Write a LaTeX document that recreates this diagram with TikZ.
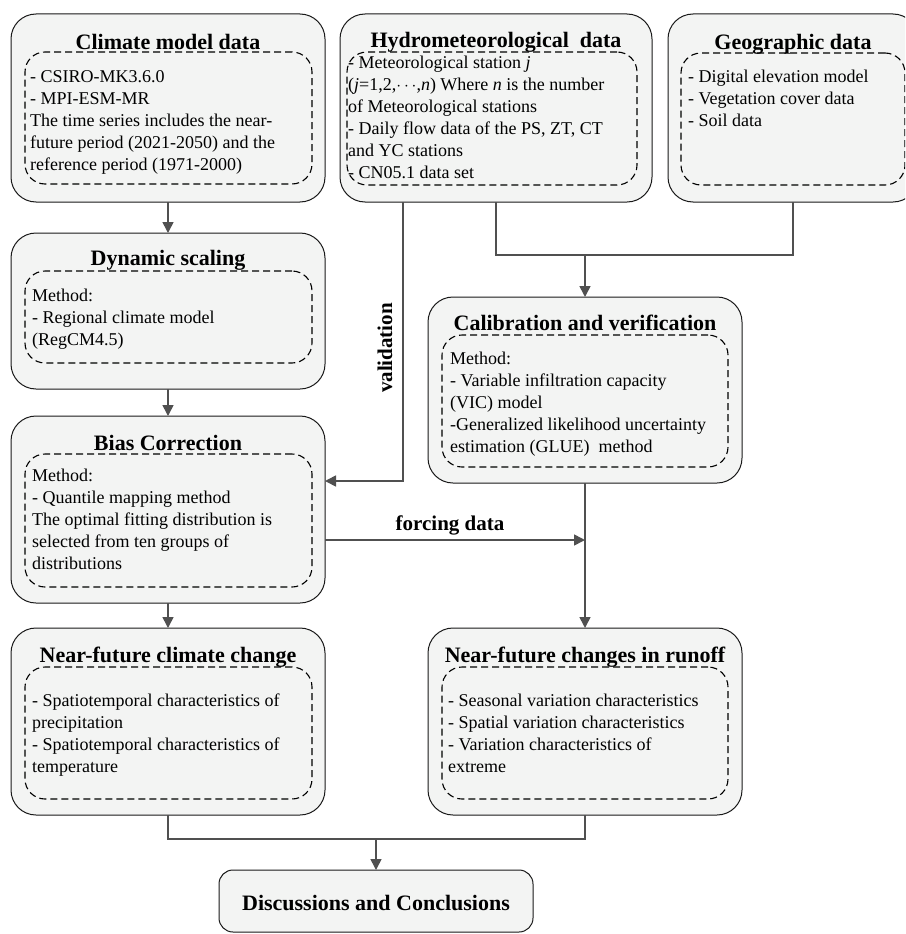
\documentclass[tikz,border=0pt]{standalone}
\usepackage{fontspec}
\setmainfont{Liberation Serif}
\usetikzlibrary{arrows.meta}
\definecolor{boxfill}{HTML}{F3F4F3}
\definecolor{linegray}{HTML}{505050}
\tikzset{
  outerbox/.style={draw=black!90, line width=1pt, fill=boxfill, rounded corners=25pt, inner sep=0pt, outer sep=0pt},
  innerbox/.style={draw=black, line width=1.1pt, dash pattern=on 7pt off 4pt, rounded corners=20pt, inner sep=0pt, outer sep=0pt},
  titletext/.style={font=\fontsize{22}{26}\selectfont\bfseries, inner sep=0pt, anchor=base},
  bodytext/.style={font=\fontsize{18}{22}\selectfont, inner sep=0pt, anchor=north west, align=left},
  labeltext/.style={font=\fontsize{21}{25}\selectfont\bfseries, inner sep=0pt},
  conn/.style={draw=linegray, line width=1.6pt},
  arr/.style={conn, -{Triangle[length=11pt,width=11pt]}},
}
\begin{document}
\begin{tikzpicture}[x=1pt,y=-1pt]
\useasboundingbox (0,0) rectangle (905,934);
\clip (0,0) rectangle (905,934);

% outer boxes
\node[outerbox, minimum width=314pt, minimum height=188pt] (A) at (168,108) {};
\node[outerbox, minimum width=314pt, minimum height=156pt] (B) at (168,311) {};
\node[outerbox, minimum width=314pt, minimum height=187pt] (C) at (168,509.5) {};
\node[outerbox, minimum width=314pt, minimum height=187pt] (D) at (168,721.5) {};
\node[outerbox, minimum width=314pt, minimum height=187pt] (E) at (585,721.5) {};
\node[outerbox, rounded corners=14pt, minimum width=314pt, minimum height=62pt] (F) at (376,901) {};
\node[outerbox, minimum width=312pt, minimum height=188pt] (G) at (496,108) {};
\node[outerbox, minimum width=250pt, minimum height=188pt] (H) at (793,108) {};
\node[outerbox, minimum width=314pt, minimum height=186pt] (I) at (585,390) {};

% inner dashed boxes
\node[innerbox, minimum width=287pt, minimum height=132pt] (Ad) at (168.5,118) {};
\node[innerbox, minimum width=287pt, minimum height=92pt] (Bd) at (168.5,317) {};
\node[innerbox, minimum width=287pt, minimum height=133pt] (Cd) at (168.5,520.5) {};
\node[innerbox, minimum width=287pt, minimum height=132pt] (Dd) at (168.5,733) {};
\node[innerbox, minimum width=286pt, minimum height=132pt] (Ed) at (585,733) {};
\node[innerbox, minimum width=290pt, minimum height=133pt] (Gd) at (492,118.5) {};
\node[innerbox, minimum width=224pt, minimum height=132pt] (Hd) at (793,119) {};
\node[innerbox, minimum width=286pt, minimum height=132pt] (Id) at (585,401) {};

% titles
\node[titletext] (At) at (168,49) {Climate model data};
\node[titletext] (Bt) at (168,265) {Dynamic scaling};
\node[titletext] (Ct) at (168,450) {Bias Correction};
\node[titletext] (Dt) at (168,662) {Near-future climate change};
\node[titletext] (Et) at (585,662) {Near-future changes in runoff};
\node[titletext] (Ft) at (376,910) {Discussions and Conclusions};
\node[titletext] (Gt) at (496,48) {Hydrometeorological\ \ data};
\node[titletext] (Ht) at (793,50) {Geographic data};
\node[titletext] (It) at (585,330) {Calibration and verification};

% bodies
\node[bodytext] (Ab) at (30,66.6) {\strut- CSIRO-MK3.6.0\\- MPI-ESM-MR\\The time series includes the near-\\future period (2021-2050) and the\\reference period (1971-2000)};
\node[bodytext] (Bb) at (32,285.6) {\strut Method:\\- Regional climate model\\(RegCM4.5)};
\node[bodytext] (Cb) at (32,465.6) {\strut Method:\\- Quantile mapping method\\The optimal fitting distribution is\\selected from ten groups of\\distributions};
\node[bodytext] (Db) at (32,690.6) {\strut- Spatiotemporal characteristics of\\precipitation\\- Spatiotemporal characteristics of\\temperature};
\node[bodytext] (Eb) at (448,690.6) {\strut- Seasonal variation characteristics\\- Spatial variation characteristics\\- Variation characteristics of\\extreme};
\node[bodytext] (Gb) at (348,52.6) {\strut- Meteorological station \textit{j}\\(\textit{j}=1,2,$\cdots$,\textit{n}) Where \textit{n} is the number\\of Meteorological stations\\- Daily flow data of the PS, ZT, CT\\and YC stations\\- CN05.1 data set};
\node[bodytext] (Hb) at (688,66.6) {\strut- Digital elevation model\\- Vegetation cover data\\- Soil data};
\node[bodytext] (Ib) at (450,348.6) {\strut Method:\\- Variable infiltration capacity\\(VIC) model\\-Generalized likelihood uncertainty\\estimation (GLUE)\ \ method};

% connector helper coordinates
\coordinate (valturn) at (403,481);
\coordinate (j1) at (585,255);
\coordinate (fy) at (0,540);
\coordinate (m) at (376,839);

% connectors
\draw[arr] (A.south) -- (B.north);
\draw[arr] (B.south) -- (C.north);
\draw[arr] (C.south) -- (D.north);
\draw[arr] ([xshift=-93pt]G.south) -- (valturn) -- (C.east |- valturn);
\draw[conn] (G.south) |- (j1) -| (H.south);
\draw[arr] (j1) -- (I.north);
\draw[arr] (C.east |- fy) -- (I.south |- fy);
\draw[arr] (I.south) -- (E.north);
\draw[conn] (D.south) |- (m) -| (E.south);
\draw[arr] (m) -- (F.north);

% labels
\node[labeltext, rotate=90] (val) at (385,348) {validation};
\node[labeltext, anchor=base] (forc) at (450,530) {forcing data};
\end{tikzpicture}
\end{document}
